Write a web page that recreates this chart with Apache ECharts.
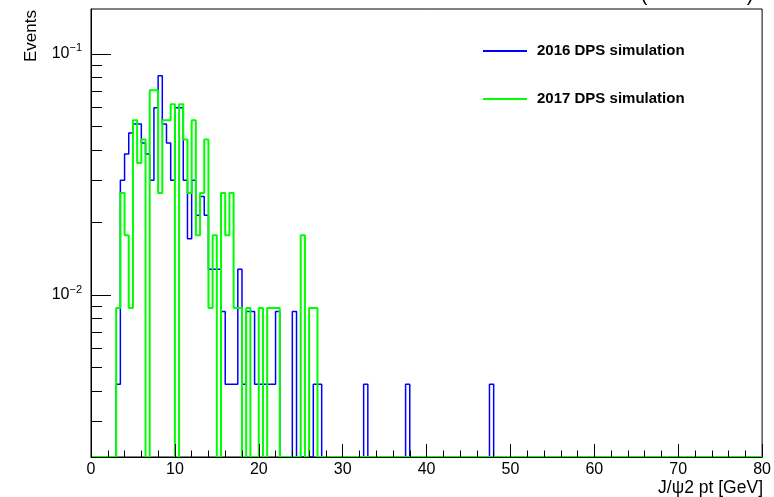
<!DOCTYPE html>
<html>
<head>
<meta charset="utf-8">
<script src="https://cdn.jsdelivr.net/npm/echarts@6/dist/echarts.min.js"></script>
<style>
  html, body { margin: 0; padding: 0; background: #fff; }
  #chart { width: 774px; height: 497px; }
</style>
</head>
<body>
<div id="chart"></div>
<script>
// ---- Data (histogram contents, 0.5 GeV bins starting at 0 GeV) ----
const binWidth = 0.5;
const xMin = 0;
const xMax = 80;
const seriesNames = ['2016 DPS simulation', '2017 DPS simulation'];

// 2016 DPS simulation, bins 0..95 (later bins empty)
const sim2016 = [
  0, 0, 0, 0, 0, 0, 0.00427, 0.0299, 0.0384, 0.0470,
  0.0512, 0.0512, 0.0427, 0.0384, 0.0299, 0.0598, 0.0811, 0.0512, 0.0427, 0.0299,
  0.0598, 0.0598, 0.0299, 0.0171, 0.0299, 0.0214, 0.0256, 0.0214, 0.0128, 0.0128,
  0.0128, 0.00854, 0.00427, 0.00427, 0.00427, 0.0128, 0.00427, 0.00854, 0.00854, 0.00427,
  0.00427, 0.00427, 0.00427, 0.00427, 0.00854, 0, 0, 0, 0.00854, 0,
  0, 0, 0, 0.00427, 0.00427, 0, 0, 0, 0, 0,
  0, 0, 0, 0, 0, 0.00427, 0, 0, 0, 0,
  0, 0, 0, 0, 0, 0.00427, 0, 0, 0, 0,
  0, 0, 0, 0, 0, 0, 0, 0, 0, 0,
  0, 0, 0, 0, 0, 0.00427
];

// 2017 DPS simulation, bins 0..53 (later bins empty)
const sim2017 = [
  0, 0, 0, 0, 0, 0, 0.00883, 0.0265, 0.0177, 0.00883,
  0.0530, 0.0353, 0.0442, 0, 0.0706, 0.0706, 0.0265, 0.0530, 0.0530, 0.0618,
  0, 0.0618, 0.0442, 0.0265, 0.0530, 0.0177, 0.0265, 0.0442, 0.00883, 0.0177,
  0, 0.0265, 0.0177, 0.0265, 0.00883, 0.00883, 0, 0.00883, 0, 0,
  0.00883, 0, 0.00883, 0.00883, 0.00883, 0, 0, 0, 0, 0,
  0.0177, 0, 0.00883, 0.00883
];

// Axis settings
const yMin = 0.00213;
const yMax = 0.1535;
const yMajorTicks = [0.01, 0.1];
const yMinorTicks = [0.003, 0.004, 0.005, 0.006, 0.007, 0.008, 0.009,
                     0.02, 0.03, 0.04, 0.05, 0.06, 0.07, 0.08, 0.09];
const xTitle = 'J/\u03c82 pt [GeV]';
const yTitle = 'Events';

// ---- Build step outlines (empty bins sit on the lower frame edge) ----
function histData(values) {
  const nBins = Math.round((xMax - xMin) / binWidth);
  const out = [];
  let last = yMin;
  for (let i = 0; i < nBins; i++) {
    const v = values[i] || 0;
    last = v > 0 ? v : yMin;
    out.push([xMin + i * binWidth, last]);
  }
  out.push([xMax, last]);
  return out;
}

const FONT = 'Liberation Sans';
const chart = echarts.init(document.getElementById('chart'), null, { renderer: 'canvas' });

const option = {
  animation: false,
  backgroundColor: '#ffffff',
  grid: {
    left: 91, right: 11, top: 9, bottom: 40,
    show: true, borderColor: '#000', borderWidth: 1, backgroundColor: 'transparent'
  },
  legend: {
    left: 478, top: 38.5, orient: 'vertical',
    icon: 'rect', itemWidth: 44, itemHeight: 2, itemGap: 33,
    data: seriesNames,
    textStyle: { fontFamily: FONT, fontSize: 15, fontWeight: 'bold', color: '#000',
                 lineHeight: 15, padding: [0, 0, 0, 5] }
  },
  xAxis: {
    type: 'value', min: xMin, max: xMax, interval: 10, z: 3,
    axisLine: { show: true, onZero: false, lineStyle: { color: '#000', width: 1 } },
    axisTick: { show: true, inside: true, length: 13, lineStyle: { color: '#000', width: 1 } },
    minorTick: { show: true, splitNumber: 5, length: 6.5, lineStyle: { color: '#000', width: 1 } },
    axisLabel: { fontFamily: FONT, fontSize: 16, color: '#000', margin: 5 },
    splitLine: { show: false }
  },
  yAxis: [
    {
      type: 'log', min: yMin, max: yMax, position: 'left',
      axisLine: { show: true, lineStyle: { color: '#000', width: 1 } },
      axisTick: { show: true, inside: true, length: 20, customValues: yMajorTicks,
                  lineStyle: { color: '#000', width: 1 } },
      axisLabel: {
        show: true, margin: 9, customValues: yMajorTicks,
        formatter: function (v) {
          const e = Math.round(Math.log10(v));
          return '{b|10}{s|' + (e < 0 ? '\u2212' + (-e) : e) + '}';
        },
        rich: {
          b: { fontFamily: FONT, fontSize: 16, color: '#000', lineHeight: 22 },
          s: { fontFamily: FONT, fontSize: 11, color: '#000', lineHeight: 12, verticalAlign: 'top' }
        }
      },
      splitLine: { show: false },
      minorTick: { show: false }
    },
    {
      type: 'log', min: yMin, max: yMax, position: 'left',
      axisLine: { show: false },
      axisTick: { show: true, inside: true, length: 11, customValues: yMinorTicks,
                  lineStyle: { color: '#000', width: 1 } },
      axisLabel: { show: false },
      splitLine: { show: false }
    }
  ],
  graphic: [
    { type: 'text', x: 31, y: 10, rotation: Math.PI / 2,
      style: { text: yTitle, fontFamily: FONT, fontSize: 17, fill: '#000',
               textAlign: 'right', textVerticalAlign: 'middle' } },
    { type: 'text', x: 763, y: 488,
      style: { text: xTitle, fontFamily: FONT, fontSize: 17.5, fill: '#000',
               textAlign: 'right', textVerticalAlign: 'middle' } },
    { type: 'text', x: 644, y: 5,
      style: { text: '(', fontFamily: FONT, fontSize: 20, fill: '#000',
               textAlign: 'center', textVerticalAlign: 'bottom' } },
    { type: 'text', x: 750, y: 5,
      style: { text: ')', fontFamily: FONT, fontSize: 20, fill: '#000',
               textAlign: 'center', textVerticalAlign: 'bottom' } }
  ],
  series: [
    {
      name: seriesNames[0], type: 'line', step: 'end', symbol: 'none', showSymbol: false,
      yAxisIndex: 0, z: 2,
      data: histData(sim2016),
      itemStyle: { color: '#0000ff' },
      lineStyle: { color: '#0000ff', width: 1.5 }
    },
    {
      name: seriesNames[1], type: 'line', step: 'end', symbol: 'none', showSymbol: false,
      yAxisIndex: 0, z: 2,
      data: histData(sim2017),
      itemStyle: { color: '#00ff00' },
      lineStyle: { color: '#00ff00', width: 2 }
    }
  ]
};

chart.setOption(option);
</script>
</body>
</html>
